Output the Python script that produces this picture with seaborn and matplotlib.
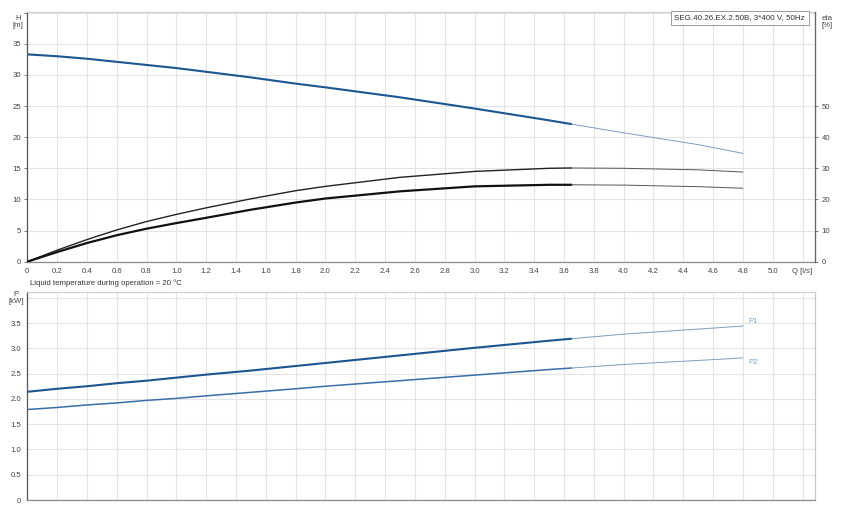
import numpy as np
import pandas as pd
import matplotlib
matplotlib.use("Agg")
import matplotlib.pyplot as plt
import seaborn as sns

# flow values [l/s]
q = [0.0, 0.2, 0.4, 0.6, 0.8, 1.0, 1.2, 1.5, 1.8, 2.0, 2.5, 3.0, 3.5, 3.65, 4.0, 4.5, 4.8]
# head [m]
head = [33.3, 33.0, 32.6, 32.1, 31.6, 31.1, 30.5, 29.6, 28.6, 28.0, 26.4, 24.6, 22.7, 22.1,
        20.7, 18.8, 17.4]
# efficiencies [%]
eta_pump = [0.0, 3.7, 7.1, 10.2, 12.9, 15.2, 17.3, 20.2, 22.8, 24.2, 27.1, 29.0, 30.0, 30.1,
            30.0, 29.5, 28.8]
eta_total = [0.0, 3.1, 6.0, 8.5, 10.6, 12.4, 14.1, 16.7, 19.0, 20.3, 22.6, 24.2, 24.7, 24.7,
             24.6, 24.1, 23.6]
# power [kW]
p1 = [2.14, 2.20, 2.25, 2.31, 2.36, 2.42, 2.48, 2.56, 2.65, 2.71, 2.86, 3.01, 3.15, 3.19,
      3.28, 3.38, 3.44]
p2 = [1.79, 1.83, 1.88, 1.92, 1.97, 2.01, 2.06, 2.13, 2.20, 2.25, 2.36, 2.47, 2.58, 2.61,
      2.68, 2.76, 2.81]

q_end = 3.65  # end of the solid (operating) part of the curves

x_ticks = [0, 0.2, 0.4, 0.6, 0.8, 1.0, 1.2, 1.4, 1.6, 1.8, 2.0, 2.2, 2.4, 2.6, 2.8,
           3.0, 3.2, 3.4, 3.6, 3.8, 4.0, 4.2, 4.4, 4.6, 4.8, 5.0, 5.2]
x_labels = ["0"] + ["%.1f" % v for v in x_ticks[1:-1]] + ["Q [l/s]"]
h_ticks = [0, 5, 10, 15, 20, 25, 30, 35, 40]
h_labels = ["0", "5", "10", "15", "20", "25", "30", "35", ""]
eta_ticks = [0, 10, 20, 30, 40, 50]
p_ticks = [0, 0.5, 1.0, 1.5, 2.0, 2.5, 3.0, 3.5, 4.0]
p_labels = ["0", "0.5", "1.0", "1.5", "2.0", "2.5", "3.0", "3.5", ""]

df = pd.DataFrame({"Q": q, "H": head, "eta": eta_pump, "eta_t": eta_total,
                   "P1": p1, "P2": p2})
solid = df[df["Q"] <= q_end]
ext = df[df["Q"] >= q_end]

sns.set_style("white")
plt.rcParams["font.family"] = ["Liberation Sans", "DejaVu Sans"]

fig = plt.figure(figsize=(8.49, 5.19), dpi=100)
ax = fig.add_axes([0.0322, 0.4958, 0.928, 0.481])
ax2 = ax.twinx()
bx = fig.add_axes([0.0322, 0.0366, 0.928, 0.4014])

grid_c = "#e4e4e4"
txt_c = "#444444"
blue = "#1d5591"
blue2 = "#3a6ea5"
ext_blue = "#7e9cc0"

xmax = 5.285
for a in (ax, bx):
    a.set_xlim(0, xmax)
    a.set_xticks(x_ticks)
    a.grid(True, color=grid_c, lw=0.8)
    a.set_axisbelow(True)
    a.tick_params(axis="both", length=2.5, width=0.6, color="#666666",
                  labelsize=5.6, labelcolor=txt_c, pad=2)
    a.spines["left"].set_color("#555555")
    a.spines["bottom"].set_color("#8a8a8a")
    a.spines["top"].set_color("#d0d0d0")
    a.spines["right"].set_color("#c8c8c8")
    for s in a.spines.values():
        s.set_linewidth(0.9)

# head curve
ax.set_ylim(0, 40.1)
ax.set_yticks(h_ticks)
ax.set_yticklabels(h_labels)
ax.set_xticklabels(x_labels)
sns.lineplot(data=solid, x="Q", y="H", ax=ax, color=blue, lw=1.5)
sns.lineplot(data=ext, x="Q", y="H", ax=ax, color=ext_blue, lw=0.7)
ax.set_xlabel("")
ax.set_ylabel("")

# efficiency curves on the right axis
ax2.set_ylim(0, 80.2)
ax2.set_yticks(eta_ticks)
sns.lineplot(data=solid, x="Q", y="eta", ax=ax2, color="#222222", lw=1.0)
sns.lineplot(data=solid, x="Q", y="eta_t", ax=ax2, color="#111111", lw=1.6)
sns.lineplot(data=ext, x="Q", y="eta", ax=ax2, color="#555555", lw=0.7)
sns.lineplot(data=ext, x="Q", y="eta_t", ax=ax2, color="#555555", lw=0.7)
ax2.set_ylabel("")
ax2.tick_params(axis="y", length=2.5, width=0.6, color="#666666",
                labelsize=5.6, labelcolor=txt_c, pad=2)
ax2.spines["right"].set_color("#666666")
ax2.spines["right"].set_linewidth(0.9)
for s in ("left", "top", "bottom"):
    ax2.spines[s].set_visible(False)

# power curves
bx.set_ylim(0, 4.12)
bx.set_yticks(p_ticks)
bx.set_yticklabels(p_labels)
bx.set_xticklabels([])
bx.tick_params(axis="x", length=0)
sns.lineplot(data=solid, x="Q", y="P1", ax=bx, color=blue, lw=1.5)
sns.lineplot(data=solid, x="Q", y="P2", ax=bx, color=blue2, lw=1.1)
sns.lineplot(data=ext, x="Q", y="P1", ax=bx, color=ext_blue, lw=0.7)
sns.lineplot(data=ext, x="Q", y="P2", ax=bx, color=ext_blue, lw=0.7)
bx.set_xlabel("")
bx.set_ylabel("")
bx.text(4.84, p1[-1] + 0.1, "P1", fontsize=5.6, color="#7fa3cc", va="center")
bx.text(4.84, p2[-1] - 0.1, "P2", fontsize=5.6, color="#7fa3cc", va="center")

# axis titles and annotations
fig.text(0.021, 0.972, "H\n[m]", fontsize=5.6, color=txt_c, ha="center", va="top",
         linespacing=1.1)
fig.text(0.968, 0.972, "eta\n[%]", fontsize=5.6, color=txt_c, ha="left", va="top",
         linespacing=1.1)
fig.text(0.019, 0.44, "P\n[kW]", fontsize=5.6, color=txt_c, ha="center", va="top",
         linespacing=1.1)
fig.text(0.035, 0.455, "Liquid temperature during operation = 20 °C", fontsize=5.6,
         color="#333333", ha="left", va="center")
ax.text(0.987, 0.99, "SEG.40.26.EX.2.50B, 3*400 V, 50Hz", transform=ax.transAxes,
        fontsize=5.8, color="#333333", ha="right", va="top",
        bbox=dict(boxstyle="square,pad=0.45", fc="white", ec="#999999", lw=0.7))

fig.savefig("out.png", dpi=100)
